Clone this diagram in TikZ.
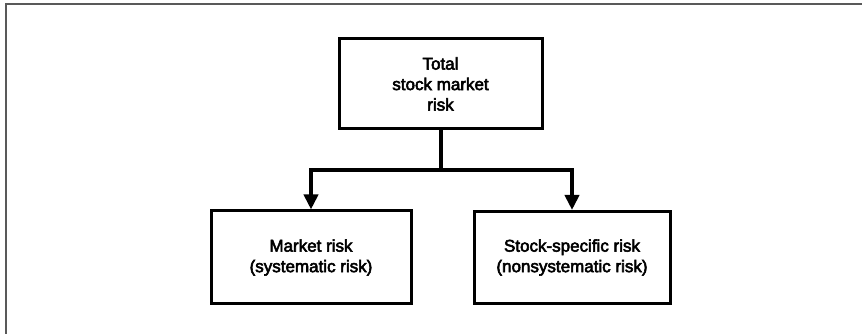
\documentclass[tikz,border=0pt]{standalone}
\usepackage{fontspec}
\setmainfont{Liberation Sans}
\newfontfamily\riskfont{Liberation Sans}[FakeBold=3.2]
\usepackage{xcolor}
\usepackage{tikz}
\usetikzlibrary{arrows.meta}

\begin{document}
\begin{tikzpicture}[x=1pt, y=1pt, line width=3pt,
    riskbox/.style={draw, align=center, inner sep=0pt,
        font=\riskfont\fontsize{17}{20.5}\selectfont},
    link/.style={line width=4pt},
    tip/.style={link, -{Triangle[length=15pt, width=14pt]}}]
    \useasboundingbox (0,0) rectangle (862,334);
    % page frame
    \draw[black!65, line width=1.2pt] (6,0) -- (6,330) -- (862,330);
    % the three boxes
    \node[riskbox, minimum width=203pt, minimum height=90pt] (total) at (440.5,250) {Total\\stock market\\risk};
    \node[riskbox, minimum width=200pt, minimum height=93pt] (market) at (311,76.5) {Market risk\\(systematic risk)};
    \node[riskbox, minimum width=196pt, minimum height=92pt] (specific) at (572,76.5) {Stock-specific risk\\(nonsystematic risk)};
    % split into the two parts
    \draw[link] (total.south) -- ++(0,-40) coordinate (split);
    \draw[tip] (split) -| (market.north);
    \draw[tip] (split) -| (specific.north);
\end{tikzpicture}
\end{document}
